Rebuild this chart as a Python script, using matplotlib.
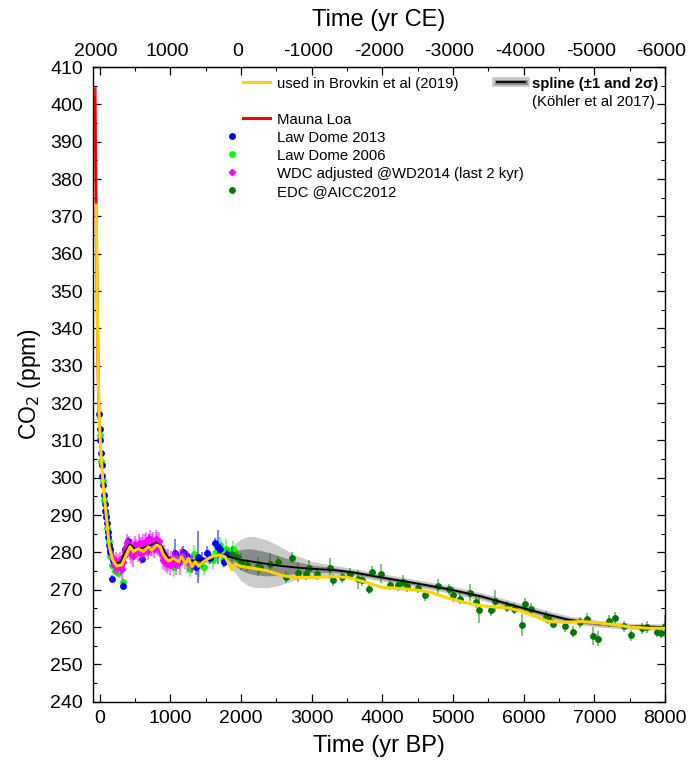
import numpy as np
import matplotlib
matplotlib.use("Agg")
import matplotlib.pyplot as plt
from matplotlib.lines import Line2D
from matplotlib.legend_handler import HandlerLine2D, HandlerTuple

plt.rcParams['font.family'] = ['Liberation Sans', 'DejaVu Sans']

# ---------------- data ----------------
# Mauna Loa (yr BP, ppm)
ml_age = [-9, -15, -20, -25, -30, -35, -40, -45, -50, -55, -60, -65, -66]
ml_co2 = [316.0, 320.0, 325.7, 331.1, 338.8, 346.4, 354.4, 360.8, 369.7, 379.8, 389.9, 401.0, 404.2]

# Brovkin et al (2019) curve
br_age = [-50, -40, -30, -20, -10, 0, 18, 50, 99, 136, 184, 240, 310, 355, 430, 475, 545, 615,
          690, 735, 805, 855, 900, 970, 1045, 1115, 1160, 1210, 1255, 1305, 1350, 1400, 1470,
          1540, 1610, 1705, 1775, 1825, 1870, 1920, 1990, 2180, 2370, 2560, 2750, 3030, 3320,
          3505, 3745, 3980, 4450, 4690, 4925, 5160, 5400, 5780, 5970, 6155, 6345, 6580, 6815,
          7050, 7285, 7525, 7760, 8000]
br_co2 = [373.0, 356.0, 340.0, 327.0, 318.0, 313.0, 306.5, 297.6, 288.7, 281.5, 278.0, 276.4,
          276.6, 278.4, 281.5, 280.2, 281.0, 280.2, 281.5, 280.6, 282.0, 281.5, 279.3, 277.7,
          278.4, 277.5, 278.8, 277.0, 278.4, 276.2, 277.5, 276.3, 277.5, 278.4, 279.0, 279.3,
          278.8, 277.0, 275.3, 277.0, 276.3, 275.7, 275.1, 273.9, 273.3, 273.3, 273.5, 273.3,
          272.1, 270.7, 270.0, 269.3, 267.8, 266.6, 265.7, 265.1, 264.2, 262.9, 261.5, 261.25,
          261.5, 261.1, 260.6, 260.0, 259.7, 259.7]

# Koehler et al (2017) spline with 1-sigma
sp_age = [-66, -60, -50, -40, -30, -20, -10, 0, 20, 50, 100, 140, 190, 250, 300, 350, 420, 500,
          600, 700, 800, 880, 970, 1090, 1330, 1520, 1700, 1800, 1900, 2000, 2100, 2200, 2370,
          2550, 2750, 3000, 3300, 3600, 3980, 4450, 4920, 5400, 5870, 6340, 6630, 7050, 7520, 8000]
sp_co2 = [402.0, 390.0, 370.0, 354.0, 339.0, 326.0, 317.0, 312.0, 306.0, 297.5, 288.5, 281.5,
          278.0, 277.0, 277.5, 280.0, 282.2, 281.0, 281.2, 281.8, 282.6, 281.5, 278.5, 277.8,
          277.8, 278.1, 279.5, 279.0, 278.5, 278.0, 277.7, 277.4, 276.9, 276.4, 276.0, 275.6,
          275.3, 274.6, 273.3, 271.8, 270.2, 268.2, 265.7, 263.3, 262.0, 260.9, 260.2, 260.0]
sp_sig = [0.4, 0.4, 0.4, 0.4, 0.4, 0.4, 0.4, 0.4, 0.4, 0.4, 0.4, 0.4, 0.4, 0.4, 0.4, 0.4, 0.4,
          0.4, 0.4, 0.4, 0.4, 0.4, 0.4, 0.4, 0.4, 0.4, 0.5, 0.9, 1.8, 2.8, 3.3, 3.4, 3.2, 2.6,
          1.7, 1.0, 0.65, 0.5, 0.5, 0.5, 0.5, 0.5, 0.55, 0.55, 0.5, 0.45, 0.4, 0.4]

# Law Dome 2013 (blue)
ld13_age = [-8, 0, 8, 18, 28, 38, 48, 58, 68, 78, 88, 98, 110, 120, 130, 140, 150, 170, 185,
            200, 225, 250, 280, 310, 334, 360, 400, 450, 500, 593, 650, 700, 780, 870, 940,
            1000, 1067, 1120, 1185, 1240, 1300, 1358, 1390, 1450, 1518, 1560, 1635, 1670, 1696,
            1760, 1800]
ld13_co2 = [317.0, 313.0, 310.0, 306.5, 303.5, 300.5, 298.0, 295.5, 293.0, 291.0, 289.5, 288.0,
            285.5, 284.0, 282.0, 281.0, 280.0, 273.0, 278.0, 277.0, 277.5, 276.5, 277.5, 278.0,
            271.0, 281.0, 283.0, 280.5, 282.0, 278.2, 281.0, 283.5, 282.0, 280.5, 278.0, 277.5,
            279.7, 277.5, 280.2, 279.0, 277.0, 276.0, 278.8, 278.0, 279.8, 278.5, 282.4, 281.5,
            280.8, 277.5, 279.5]
ld13_err = [1, 1, 1, 1, 1, 1, 1, 1, 1, 1, 1, 1, 1, 1, 1, 1, 1, 1, 1, 1, 1, 1, 1, 1, 1, 1, 1, 1,
            1, 1, 1.5, 1.5, 1.5, 1.5, 1.5, 1.5, 4, 2, 1.5, 1.5, 2, 2, 7, 2, 2, 1.5, 1.5, 4.5, 1.5,
            1.5, 1.5]

# Law Dome 2006 (lime)
ld06_age = [5, 25, 45, 65, 85, 105, 125, 150, 180, 210, 230, 260, 290, 330, 950, 1050, 1150,
            1230, 1280, 1330, 1400, 1470, 1550, 1600, 1650, 1700, 1740, 1780, 1830, 1880, 1930]
ld06_co2 = [311.5, 304.5, 299.0, 294.0, 290.0, 286.5, 283.0, 279.0, 276.5, 275.0, 277.0, 274.5,
            276.0, 272.0, 278.0, 276.0, 279.0, 277.5, 275.5, 279.5, 276.5, 276.0, 279.0, 278.0,
            280.0, 282.0, 278.0, 281.0, 279.5, 281.0, 279.0]
ld06_err = [1, 1, 1, 1, 1, 1, 1, 1, 1, 1, 1, 1, 1, 1, 2, 2.5, 2, 3, 2, 2.5, 3, 2, 2, 2.5, 2, 2,
            2, 2.5, 2, 2, 2]

# WDC adjusted @WD2014 (magenta)
wdc_age = [190, 205, 220, 235, 250, 265, 280, 295, 310, 325, 340, 355, 370, 385, 400, 415, 430,
           445, 460, 475, 490, 505, 520, 535, 550, 565, 580, 595, 610, 625, 640, 655, 670, 685,
           700, 715, 730, 745, 760, 775, 790, 805, 820, 835, 850, 865, 880, 895, 910, 925, 940,
           955, 970, 990, 1010, 1030, 1050, 1075, 1100, 1130, 1160, 1200, 1250, 1300]
wdc_co2 = [278.5, 277.0, 276.5, 277.5, 276.0, 277.0, 278.0, 276.5, 275.5, 277.5, 279.0, 280.5,
           281.5, 282.5, 281.0, 282.0, 280.5, 279.5, 281.0, 279.0, 280.5, 282.0, 281.0, 280.0,
           282.5, 281.5, 279.5, 281.5, 282.5, 280.5, 282.0, 283.0, 281.5, 280.5, 282.5, 283.5,
           281.5, 282.0, 283.0, 281.0, 283.5, 282.5, 281.5, 283.0, 281.0, 280.0, 279.5, 278.0,
           279.0, 277.5, 278.5, 277.0, 278.0, 276.5, 278.0, 277.5, 278.5, 277.0, 278.0, 277.5,
           279.0, 278.0, 277.5, 277.0]
wdc_err = [2.0, 2.5, 2.0, 2.5, 2.0, 2.5, 2.0, 2.5, 3.0, 2.5, 2.5, 2.5, 2.0, 2.5, 2.5, 2.5, 2.5,
           2.5, 2.5, 3.0, 2.5, 2.5, 2.5, 2.5, 2.5, 2.5, 2.5, 2.5, 2.5, 2.5, 3.0, 2.5, 2.5, 2.5,
           2.5, 2.5, 2.5, 3.0, 2.5, 2.5, 2.5, 3.0, 2.5, 2.5, 2.5, 2.5, 2.5, 2.5, 3.0, 2.5, 2.5,
           2.5, 3.0, 2.5, 2.5, 2.5, 2.5, 3.0, 2.5, 3.5, 2.5, 2.5, 2.5, 2.5]

# EDC @AICC2012 (dark green)
edc_age = [1870, 1940, 2005, 2085, 2235, 2275, 2415, 2525, 2630, 2715, 2810, 2915, 2960, 3070,
           3260, 3295, 3435, 3540, 3650, 3705, 3815, 3860, 3980, 4110, 4215, 4285, 4350, 4500,
           4605, 4785, 4940, 5000, 5100, 5235, 5330, 5365, 5540, 5600, 5770, 5865, 5970, 6015,
           6110, 6320, 6345, 6420, 6585, 6700, 6790, 6900, 6985, 7055, 7210, 7290, 7425, 7520,
           7670, 7740, 7885, 7945, 7995]
edc_co2 = [279.6, 278.7, 277.5, 276.6, 276.3, 276.1, 277.0, 277.5, 273.4, 278.6, 274.6, 274.2,
           275.9, 274.1, 275.7, 272.6, 273.4, 274.3, 272.8, 272.6, 270.3, 274.8, 274.3, 271.3,
           271.2, 272.1, 271.0, 270.5, 268.5, 271.0, 270.1, 268.7, 267.6, 269.2, 266.7, 264.5,
           264.5, 266.9, 265.4, 264.9, 260.5, 266.1, 264.9, 262.7, 262.3, 260.9, 260.3, 258.7,
           261.3, 262.2, 257.6, 256.9, 261.6, 262.4, 260.2, 257.8, 259.7, 260.0, 258.7, 258.5,
           260.3]
edc_err = [2, 2, 2.2, 1.5, 2.5, 1.5, 2.7, 1.5, 1.5, 1.5, 2.5, 1.5, 2.0, 1.5, 2.7, 1.5, 1.5, 1.5,
           2.5, 1.5, 1.5, 1.5, 2.5, 1.5, 1.5, 1.8, 1.5, 1.5, 1.5, 1.8, 1.5, 2.0, 1.5, 2.2, 1.5,
           3.5, 1.5, 3.0, 1.5, 1.5, 3.0, 1.8, 1.5, 1.5, 1.5, 1.2, 1.5, 1.5, 1.5, 1.5, 2.5, 2.0,
           1.5, 1.5, 1.5, 1.5, 1.5, 1.5, 1.5, 1.5, 3.0]

ce_ticks = [2000, 1000, 0, -1000, -2000, -3000, -4000, -5000, -6000]

# ---------------- figure ----------------
fig = plt.figure(figsize=(6.9, 7.6), dpi=100)
ax = fig.add_axes([0.1343, 0.0767, 0.8295, 0.8351])

sa = np.array(sp_age)
sc = np.array(sp_co2)
ss = np.array(sp_sig)
ax.fill_between(sa, sc - 2 * ss, sc + 2 * ss, color='#cbcbcb', lw=0, zorder=1)
ax.fill_between(sa, sc - ss, sc + ss, color='#8a8a8a', lw=0, zorder=1.1)

ms = 3.9
ax.errorbar(ld06_age, ld06_co2, yerr=ld06_err, fmt='o', color='#00ff00', ms=ms,
            ecolor=(0.0, 1.0, 0.0, 0.6), elinewidth=1.2, capsize=0, zorder=2)
ax.errorbar(ld13_age, ld13_co2, yerr=ld13_err, fmt='o', color='#0000ff', ms=ms,
            ecolor=(0.0, 0.0, 1.0, 0.6), elinewidth=1.2, capsize=0, zorder=2.1)
ax.errorbar(wdc_age, wdc_co2, yerr=wdc_err, fmt='D', color='#ff00ff', ms=3.2,
            ecolor=(1.0, 0.0, 1.0, 0.6), elinewidth=1.2, capsize=0, zorder=2.2)
ax.errorbar(edc_age, edc_co2, yerr=edc_err, fmt='o', color='#007a00', ms=ms,
            ecolor=(0.0, 0.48, 0.0, 0.55), elinewidth=1.2, capsize=0, zorder=2.3)

ax.plot(sp_age, sp_co2, color='black', lw=1.3, zorder=3)
ax.plot(ml_age, ml_co2, color='#ff0000', lw=2.2, alpha=0.9, zorder=3.5)
ax.plot(br_age, br_co2, color='#ffd200', lw=2.2, zorder=4)

ax.set_xlim(-100, 8000)
ax.set_ylim(240, 410)
ax.set_xticks(np.arange(0, 8001, 1000))
ax.set_xticks(np.arange(0, 8001, 500), minor=True)
ax.set_yticks(np.arange(240, 411, 10))
ax.set_yticks(np.arange(240, 411, 5), minor=True)
ax.tick_params(which='both', direction='in', top=True, right=True, labelsize=14)
ax.tick_params(which='major', length=6, width=0.9)
ax.tick_params(which='minor', length=3, width=0.8)
ax.tick_params(axis='y', pad=7)
ax.tick_params(axis='x', pad=6)
for s in ax.spines.values():
    s.set_linewidth(1.0)

ax.set_xlabel('Time (yr BP)', fontsize=17, labelpad=6)
ax.set_ylabel('CO$_2$ (ppm)', fontsize=16.5, labelpad=5)

sec = ax.secondary_xaxis('top', functions=(lambda bp: 1950 - bp, lambda ce: 1950 - ce))
sec.set_xticks(ce_ticks)
sec.set_xticklabels([str(t) for t in ce_ticks])
sec.tick_params(length=0, labelsize=14, pad=5)
sec.set_xlabel('Time (yr CE)', fontsize=17, labelpad=12)


class ShiftedMarker(HandlerLine2D):
    def create_artists(self, legend, orig_handle, xdescent, ydescent, width, height,
                       fontsize, trans):
        arts = super().create_artists(legend, orig_handle, xdescent, ydescent, width, height,
                                      fontsize, trans)
        for a in arts:
            a.set_xdata(np.asarray(a.get_xdata(), dtype=float) - 0.9 * width)
        return arts


h_br = Line2D([], [], color='#ffd200', lw=2.2)
h_blank = Line2D([], [], color='none')
h_ml = Line2D([], [], color='#ff0000', lw=2.2)
h_ld13 = Line2D([], [], marker='o', color='#0000ff', ls='none', ms=ms)
h_ld06 = Line2D([], [], marker='o', color='#00ff00', ls='none', ms=ms)
h_wdc = Line2D([], [], marker='D', color='#ff00ff', ls='none', ms=3.2)
h_edc = Line2D([], [], marker='o', color='#007a00', ls='none', ms=ms)
sm = ShiftedMarker(numpoints=1)
leg1 = ax.legend([h_br, h_blank, h_ml, h_ld13, h_ld06, h_wdc, h_edc],
                 ['used in Brovkin et al (2019)', ' ', 'Mauna Loa', 'Law Dome 2013',
                  'Law Dome 2006', 'WDC adjusted @WD2014 (last 2 kyr)', 'EDC @AICC2012'],
                 loc='upper left', bbox_to_anchor=(0.2626, 0.985), frameon=False,
                 fontsize=10.7, handlelength=1.8, handletextpad=0.5, labelspacing=0.27,
                 borderpad=0, borderaxespad=0,
                 handler_map={h_ld13: sm, h_ld06: sm, h_wdc: sm, h_edc: sm})
ax.add_artist(leg1)

h_sp = (Line2D([], [], color='#c8c8c8', lw=7), Line2D([], [], color='#888888', lw=3.5),
        Line2D([], [], color='black', lw=1.3))
leg2 = ax.legend([h_sp, Line2D([], [], color='none')],
                 ['spline (±1 and 2σ)', '(Köhler et al 2017)'],
                 loc='upper left', bbox_to_anchor=(0.7065, 0.985), frameon=False,
                 fontsize=10.7, handlelength=1.85, handletextpad=0.5, labelspacing=0.27,
                 borderpad=0, borderaxespad=0,
                 handler_map={tuple: HandlerTuple(ndivide=1)})
leg2.get_texts()[0].set_fontweight('bold')

fig.savefig('out.png', dpi=100)
